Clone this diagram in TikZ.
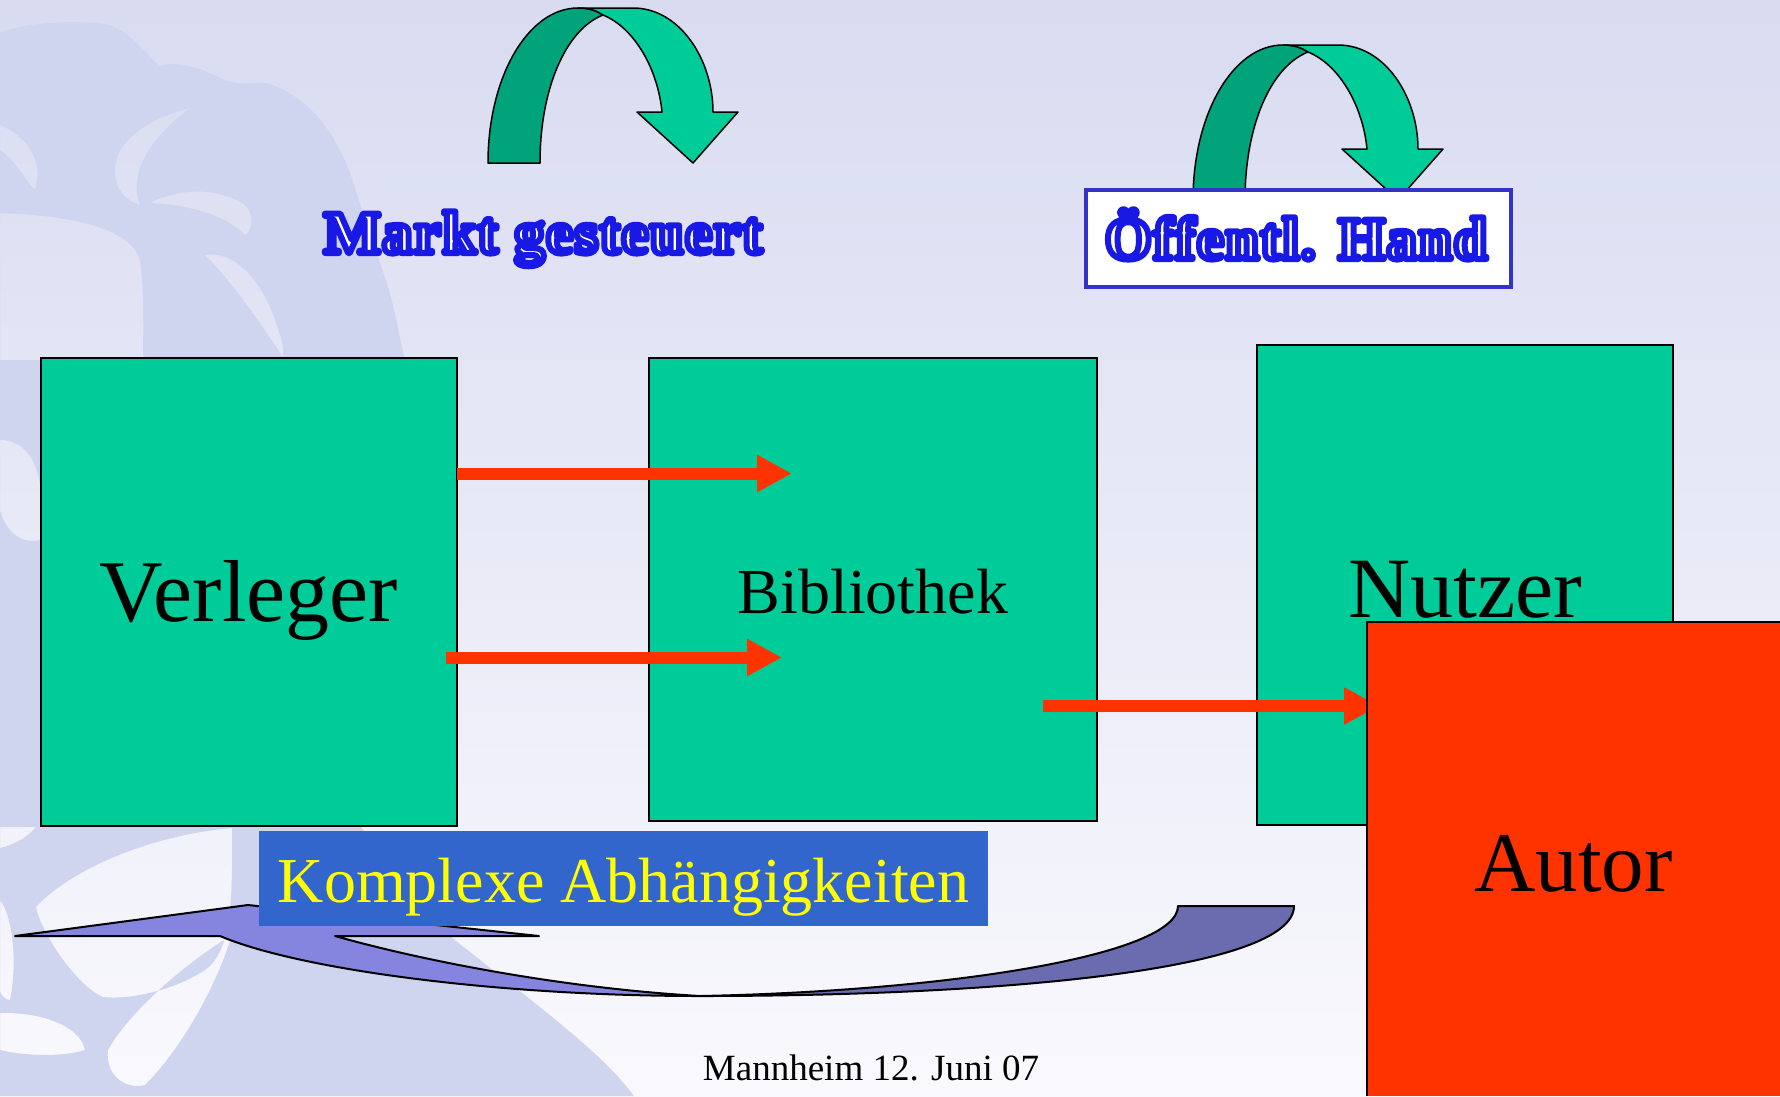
\documentclass[tikz,border=0pt]{standalone}
\usepackage{fontspec}
\setmainfont{Liberation Serif}
\newfontfamily\wafont{Liberation Serif}[Ligatures=NoCommon, LetterSpace=3]
\usetikzlibrary{arrows.meta}
\definecolor{bgtop}{RGB}{217,219,241}
\definecolor{bgbot}{RGB}{249,249,253}
\definecolor{wmark}{RGB}{207,212,239}
\definecolor{boxgreen}{RGB}{0,204,153}
\definecolor{darkgreen}{RGB}{0,163,122}
\definecolor{arrred}{RGB}{255,51,0}
\definecolor{kbox}{RGB}{51,102,204}
\definecolor{kyellow}{RGB}{255,255,0}
\definecolor{purpL}{RGB}{133,133,224}
\definecolor{purpD}{RGB}{107,107,176}
\definecolor{frameblue}{RGB}{51,51,204}
% outlined word-art text: white fill, blue stroke
\newcommand\wordartmode{\special{pdf:literal direct 0.1 0.1 0.9 RG 2 Tr 6 w 1 j 1 J}}
\newcommand\trreset{\special{pdf:literal direct 0 Tr}}
\tikzset{
  box/.style={draw=black, line width=2pt, fill=boxgreen, inner sep=0pt, outer sep=0pt},
  redarrow/.style={draw=arrred, line width=12pt, -{Triangle[length=35pt,width=35pt]}},
  greenL/.style={fill=boxgreen, draw=black, line width=1.5pt, line join=round},
  greenD/.style={fill=darkgreen, draw=black, line width=1.5pt, line join=round},
  purpleL/.style={fill=purpL, draw=black, line width=2pt, line join=round},
  purpleD/.style={fill=purpD, draw=black, line width=2pt, line join=round},
  wordart/.style={anchor=base, inner sep=0pt, text=white, font=\wafont\bfseries\fontsize{60}{60}\selectfont},
  pics/uturn/.style={code={
    \path[greenD] (488,163) .. controls (488,77) and (528,8) .. (578,8)
      .. controls (590,8) and (597,11) .. (603,15)
      .. controls (565,30) and (540,90) .. (540,163) -- cycle;
    \path[greenL] (578,8) -- (633,8) .. controls (680,8) and (713,60) .. (713,112)
      -- (738,112) -- (693,163) -- (637,112) -- (662,112)
      .. controls (658,70) and (635,28) .. (603,15)
      .. controls (597,11) and (590,8) .. (578,8) -- cycle;
  }}
}
\begin{document}
\begin{tikzpicture}[x=1pt,y=-1pt]
\useasboundingbox (0,0) rectangle (1780,1096);
% background
\shade[top color=bgtop, bottom color=bgbot] (0,0) rectangle (1780,1096);
% watermark (blob with light holes, even-odd)
\fill[wmark, even odd rule]
  (0,33) .. controls (15,25) and (70,18) .. (110,25)
  .. controls (135,35) and (150,60) .. (160,66)
  .. controls (180,60) and (205,70) .. (220,78)
  .. controls (240,88) and (255,80) .. (270,84)
  .. controls (300,95) and (330,120) .. (350,173)
  .. controls (362,210) and (375,250) .. (387,283)
  .. controls (395,310) and (400,340) .. (405,360) -- (420,600) -- (360,826)
  .. controls (390,860) and (420,900) .. (446,933)
  .. controls (530,1000) and (600,1050) .. (634,1096) -- (0,1096) -- cycle
  % top-left light region
  (0,213) .. controls (60,215) and (130,225) .. (140,260) .. controls (145,300) and (143,330) .. (143,360) -- (0,360) -- cycle
  % hair curls
  (190,108) .. controls (150,118) and (115,140) .. (115,170) .. controls (115,190) and (125,200) .. (140,205) .. controls (132,185) and (135,150) .. (190,108) -- cycle
  (150,203) .. controls (175,190) and (215,185) .. (245,205) .. controls (255,215) and (252,232) .. (245,235) .. controls (225,215) and (190,205) .. (150,203) -- cycle
  (205,255) .. controls (230,250) and (260,275) .. (275,320) .. controls (282,340) and (285,350) .. (282,356) .. controls (265,330) and (235,285) .. (205,255) -- cycle
  (0,125) .. controls (25,135) and (45,160) .. (35,190) .. controls (25,180) and (15,160) .. (0,150) -- cycle
  (0,440) .. controls (30,440) and (41,470) .. (41,500) -- (41,540) .. controls (20,545) and (5,530) .. (0,510) -- cycle
  % lower curls
  (0,827) -- (36,827) .. controls (30,835) and (15,845) .. (0,848) -- cycle
  (232,828) .. controls (232,880) and (235,950) .. (205,970) .. controls (175,990) and (130,1000) .. (103,997)
     .. controls (75,985) and (40,930) .. (36,907) .. controls (70,870) and (150,835) .. (232,828) -- cycle
  (232,935) .. controls (215,990) and (180,1050) .. (145,1085) .. controls (125,1090) and (105,1075) .. (108,1050)
     .. controls (130,1010) and (190,960) .. (232,935) -- cycle
  (0,900) .. controls (12,915) and (18,960) .. (10,1000) .. controls (5,1000) and (0,995) .. (0,990) -- cycle
  (0,1013) .. controls (40,1012) and (80,1025) .. (85,1050) .. controls (60,1058) and (20,1055) .. (0,1050) -- cycle;
% green u-turn arrows
\pic (uturnA) at (0,0) {uturn};
\pic (uturnB) at (705,37) {uturn};
% Oeffentl. Hand frame
\node[draw=frameblue, line width=4pt, fill=white, minimum width=425pt, minimum height=97pt, inner sep=0pt] (handbox) at (1298.5,238.5) {};
% word art texts
\node[wordart] (markt) at (543,253) {\wordartmode Markt gesteuert\trreset};
\node[wordart] (hand) at (1296,259) {\wordartmode Öffentl. Hand\trreset};
% boxes
\node[box, minimum width=416pt, minimum height=468pt, text height=59pt, text depth=0pt,
      font=\fontsize{88}{88}\selectfont] (verleger) at (249,592) {Verleger};
\node[box, minimum width=448pt, minimum height=463pt, text height=47pt, text depth=0pt,
      font=\fontsize{64}{64}\selectfont] (bibliothek) at (873,589.5) {Bibliothek};
\node[box, minimum width=416pt, minimum height=480pt, text height=64pt, text depth=0pt,
      font=\fontsize{86}{86}\selectfont] (nutzer) at (1465,585) {Nutzer};
% red arrows
\coordinate (r1s) at (457,473.5); \coordinate (r1e) at (792,473.5);
\coordinate (r2s) at (446,657.5); \coordinate (r2e) at (782,657.5);
\coordinate (r3s) at (1043,706);  \coordinate (r3e) at (1379,706);
\draw[redarrow] (r1s) -- (r1e);
\draw[redarrow] (r2s) -- (r2e);
\draw[redarrow] (r3s) -- (r3e);
% Autor
\node[fill=arrred, inner sep=0pt, outer sep=0pt, minimum width=413pt, minimum height=474pt,
      text height=64pt, text depth=0pt, font=\fontsize{85}{85}\selectfont] (autor) at (1573.5,859) {Autor};
\draw[line width=2pt] (autor.south west) -- (autor.north west) -- (autor.north east);
% purple curved arrow
\path[purpleD] (1178,906) -- (1294,906) .. controls (1294,970) and (1000,996) .. (700,996)
  .. controls (950,991) and (1178,955) .. (1178,906) -- cycle;
\path[purpleL] (15,936) -- (248,905) -- (539,936) -- (335,936)
  .. controls (420,960) and (560,988) .. (700,996)
  .. controls (500,996) and (300,970) .. (220,936) -- cycle;
% Komplexe box
\node[fill=kbox, inner sep=0pt, minimum width=729pt, minimum height=95pt, text=kyellow,
      text height=47pt, text depth=0pt, font=\fontsize{64}{64}\selectfont] (komplex) at (623.5,878.5) {Komplexe Abhängigkeiten};
% footer
\node[anchor=base, inner sep=0pt, font=\fontsize{37}{37}\selectfont] (datum) at (871,1080) {Mannheim 12. Juni 07};
\end{tikzpicture}
\end{document}
